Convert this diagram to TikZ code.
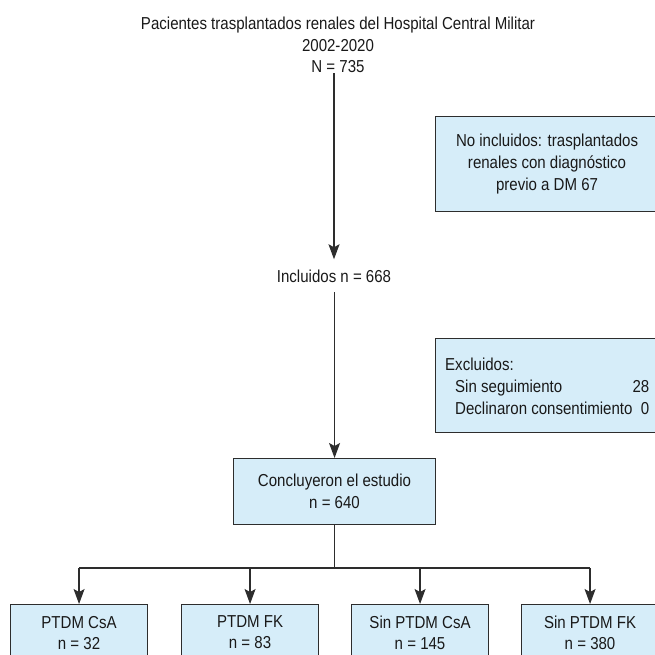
\documentclass[tikz,border=0pt]{standalone}
\usepackage{fontspec}
\setmainfont[FakeStretch=0.87]{Liberation Sans}
\usetikzlibrary{arrows.meta,calc}
\definecolor{boxfill}{RGB}{214,237,249}
\definecolor{lineclr}{RGB}{45,45,45}
\begin{document}
\begin{tikzpicture}[x=1pt,y=-1pt,
  every node/.style={font=\fontsize{17.3}{22}\selectfont, text=black!90},
  box/.style={draw=lineclr, fill=boxfill, line width=1.1pt, inner sep=0pt, align=center, anchor=north west},
  bbox/.style={box, minimum width=137pt, minimum height=56pt, font=\fontsize{17.3}{21}\selectfont},
  conn/.style={draw=lineclr, line width=1.2pt},
  arr/.style={conn, -{Stealth[length=15pt,width=11pt,inset=3pt]}}]
\useasboundingbox (0,0) rectangle (655,654);
\node[align=center, anchor=south, inner sep=0pt, font=\fontsize{17.3}{21.5}\selectfont] (title) at (338,73)
  {Pacientes trasplantados renales del Hospital Central Militar\\2002-2020\\N = 735};
\node[anchor=base, inner xsep=0pt, inner ysep=10pt] (incl) at (334,282) {Incluidos n = 668};
\node[box, minimum width=202pt, minimum height=66pt] (concl) at (233,458) {Concluyeron el estudio\\n = 640};
\node[box, minimum width=223pt, minimum height=95pt] (noinc) at (435,116)
  {No incluidos: trasplantados\\renales con diagnóstico\\previo a DM 67};
\node[box, minimum width=223pt, minimum height=94pt] (excl) at (435,338) {};
\node[anchor=west, inner sep=0pt] (excltxt) at (445,388)
  {\begin{tabular*}{196pt}{@{}l@{\extracolsep{\fill}}r@{}}Excluidos: & \\ \hspace{10pt}Sin seguimiento & 28\\ \hspace{10pt}Declinaron consentimiento & 0\end{tabular*}};
\node[bbox] (b1) at (10,604) {PTDM CsA\\n = 32};
\node[bbox] (b2) at (181,604) {PTDM FK\\n = 83};
\node[bbox] (b3) at (351,604) {Sin PTDM CsA\\n = 145};
\node[bbox] (b4) at (521,604) {Sin PTDM FK\\n = 380};
\coordinate (split) at (334,568);
\draw[arr] (title.south -| incl.north) -- (incl.north);
\draw[arr] (concl.north |- incl.south) -- (concl.north);
\draw[conn] (concl.south) -- (concl.south |- split);
\draw[conn] (b1.north |- split) -- (b4.north |- split);
\foreach \b in {b1,b2,b3,b4} \draw[arr] (\b.north |- split) -- (\b.north);
\end{tikzpicture}
\end{document}
